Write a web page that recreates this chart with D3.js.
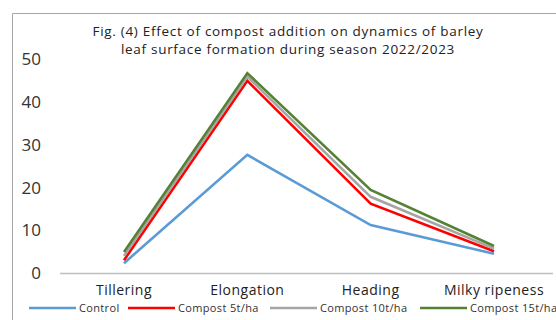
<!DOCTYPE html>
<html><head><meta charset="utf-8">
<script src="https://cdn.jsdelivr.net/npm/d3@7"></script>
<style>body{margin:0;background:#fff}svg{display:block}</style>
</head><body><svg id="c" width="556" height="320"></svg>
<script>
const categories = ["Tillering","Elongation","Heading","Milky ripeness"];
const seriesNames = ["Control","Compost 5t/ha","Compost 10t/ha","Compost 15t/ha"];
const control = [2.3, 27.6, 11.2, 4.5];
const compost5 = [3.0, 44.9, 16.2, 5.1];
const compost10 = [4.0, 45.9, 17.8, 5.7];
const compost15 = [4.9, 46.7, 19.4, 6.3];
const yTicks = [0,10,20,30,40,50];
const titleLines = ["Fig. (4) Effect of compost addition on dynamics of barley","leaf surface formation during season 2022/2023"];
const colors = ["#5B9BD5","#FF0000","#A5A5A5","#548235"];
const series = [control, compost5, compost10, compost15];

const svg = d3.select("#c");
const x = d3.scalePoint().domain(categories).range([124,494]);
const y = d3.scaleLinear().domain([0,50]).range([273,59]);

// frame
svg.append("path").attr("d","M12.5,320 V13.5 H556").attr("fill","none").attr("stroke","#A6A6A6").attr("stroke-width",1);

// y tick labels
svg.append("g").selectAll("text").data(yTicks).join("text")
  .attr("x",41).attr("y",d=>y(d)).attr("dy","0.36em").attr("text-anchor","end")
  .attr("font-family","Open Sans").attr("font-size",17).attr("fill","#333").text(d=>d);

// x axis line
svg.append("line").attr("x1",60).attr("x2",553).attr("y1",273.5).attr("y2",273.5).attr("stroke","#BFBFBF").attr("stroke-width",1.3);

// x labels
svg.append("g").selectAll("text").data(categories).join("text")
  .attr("x",d=>x(d)).attr("y",290).attr("dy","0.35em").attr("text-anchor","middle")
  .attr("font-family","Open Sans").attr("font-size",14).attr("letter-spacing",0.5).attr("fill","#222").text(d=>d);

// lines
const line = d3.line().x((d,i)=>x(categories[i])).y(d=>y(d));
svg.append("g").selectAll("path").data(series).join("path")
  .attr("d",line).attr("fill","none").attr("stroke",(d,i)=>colors[i]).attr("stroke-width",2.6).attr("stroke-linejoin","miter");

// title
svg.append("g").selectAll("text").data(titleLines).join("text")
  .attr("x",288).attr("y",(d,i)=>31+i*18).attr("dy","0.35em").attr("text-anchor","middle")
  .attr("font-family","Open Sans").attr("font-size",13.5).attr("letter-spacing",0.7).attr("fill","#222").text(d=>d);

// legend
const legX = [29,128,270,420];
const lg = svg.append("g").selectAll("g").data(seriesNames).join("g")
  .attr("transform",(d,i)=>`translate(${legX[i]},308)`);
lg.append("line").attr("x1",0).attr("x2",47).attr("stroke",(d,i)=>colors[i]).attr("stroke-width",2.6);
lg.append("text").attr("x",50).attr("dy","0.35em").attr("font-family","Open Sans").attr("font-size",11).attr("letter-spacing",0.35).attr("fill","#333").text(d=>d);
</script></body></html>
